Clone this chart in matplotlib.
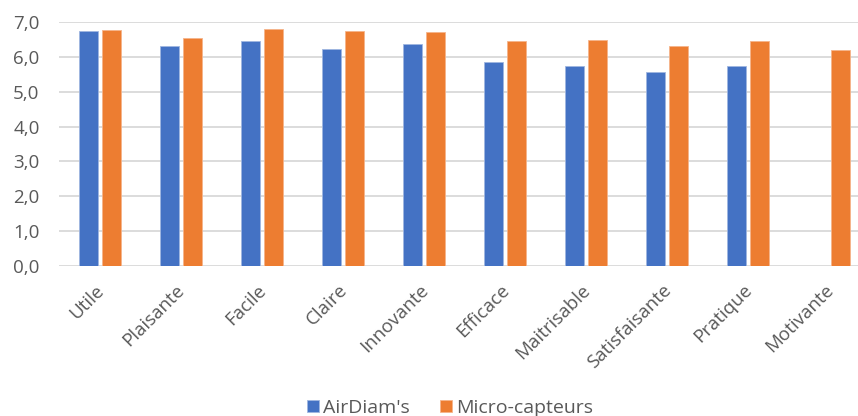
import matplotlib
matplotlib.use("Agg")
import matplotlib.pyplot as plt
import matplotlib.transforms as mtransforms
import numpy as np

categories = ["Utile", "Plaisante", "Facile", "Claire", "Innovante", "Efficace",
              "Maitrisable", "Satisfaisante", "Pratique", "Motivante"]
airdiams = [6.73, 6.31, 6.45, 6.23, 6.38, 5.86, 5.73, 5.57, 5.73, np.nan]
micro = [6.77, 6.53, 6.80, 6.73, 6.70, 6.45, 6.48, 6.31, 6.45, 6.19]
yticks = [0, 1, 2, 3, 4, 5, 6, 7]
ytick_labels = ["0,0", "1,0", "2,0", "3,0", "4,0", "5,0", "6,0", "7,0"]

plt.rcParams['font.family'] = ['Open Sans', 'DejaVu Sans']

W, H = 858, 416
fig = plt.figure(figsize=(W / 100, H / 100), dpi=100)
left = 59 / W
right = 870 / W
bottom = (H - 266) / H
top = (H - 22) / H
ax = fig.add_axes([left, bottom, right - left, top - bottom])

x = np.arange(len(categories))
bw = 0.235
off = 0.142
blue = "#4472C4"
orange = "#ED7D31"
ax.bar(x - off, airdiams, bw, color=blue, edgecolor="#9fb6e0", linewidth=0.6,
       label="AirDiam's", zorder=3)
ax.bar(x + off, micro, bw, color=orange, edgecolor="#f5b48a", linewidth=0.6,
       label="Micro-capteurs", zorder=3)

ax.set_xlim(-0.5, len(categories) - 0.5)
ax.set_ylim(0, 7)
ax.set_yticks(yticks)
ax.set_yticklabels(ytick_labels)
ax.set_xticks(x)
ax.set_xticklabels(categories, rotation=45, ha="right", rotation_mode="anchor")
ax.grid(axis="y", color="#d9d9d9", linewidth=1.3, zorder=0)
ax.set_axisbelow(True)
for s in ax.spines.values():
    s.set_visible(False)
ax.tick_params(axis="both", length=0, colors="#595959", labelsize=13.5)
ax.tick_params(axis="y", pad=14)
ax.tick_params(axis="x", pad=8)

shift = mtransforms.ScaledTranslation(-5 / 100, -4 / 100, fig.dpi_scale_trans)
for lab in ax.get_xticklabels():
    lab.set_transform(lab.get_transform() + shift)

leg = fig.legend(loc="center", bbox_to_anchor=(450 / W, (H - 408) / H), ncol=2,
                 frameon=False, fontsize=14, handlelength=0.6, handleheight=0.6,
                 handletextpad=0.2, columnspacing=1.6, labelcolor="#595959")
fig.savefig("out.png", dpi=100)
